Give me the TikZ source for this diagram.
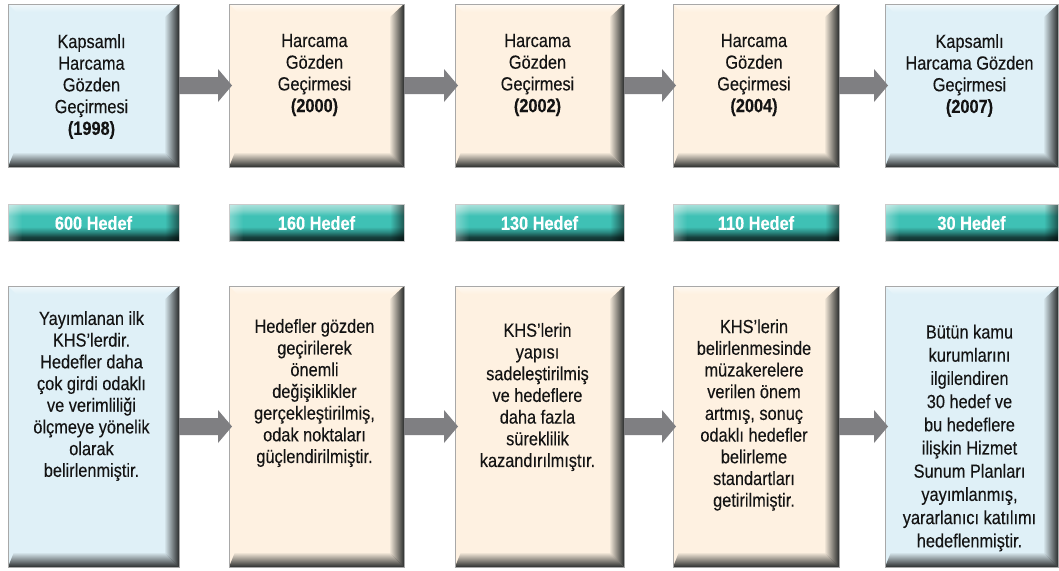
\documentclass[tikz,border=0pt]{standalone}
\usepackage{fontspec}
\setmainfont{Liberation Sans}[FakeStretch=0.86, FakeBold=0.25]
\usetikzlibrary{fadings}
\definecolor{boxblue}{HTML}{DFF0F7}
\definecolor{boxpeach}{HTML}{FEF1E1}
\definecolor{edgegray}{HTML}{A8A8A8}
\definecolor{shadowdark}{HTML}{2B2E2E}
\definecolor{arrowgray}{HTML}{7F7F82}
\definecolor{barlight}{HTML}{A6E0DA}
\definecolor{barsoft}{HTML}{82D4CB}
\definecolor{barmid}{HTML}{3FC1B5}
\definecolor{bardeep}{HTML}{2A8A82}
\definecolor{bardarker}{HTML}{163F3C}
\definecolor{bardark}{HTML}{0E2B29}
\definecolor{textblack}{HTML}{141414}
\pgfdeclareverticalshading{barshade}{100bp}{color(0bp)=(bardark); color(25bp)=(bardark); color(31bp)=(bardarker); color(38bp)=(bardeep); color(45bp)=(barmid); color(60bp)=(barmid); color(68bp)=(barsoft); color(75bp)=(barlight); color(100bp)=(barlight)}
\newcommand{\panelbevel}[1]{%
  \fill[shadowdark, path fading=west] (#1.north east) -- (#1.south east) -- ([shift={(-15pt,15pt)}]#1.south east) -- ([shift={(-15pt,-14pt)}]#1.north east) -- cycle;
  \fill[shadowdark, path fading=north] (#1.south west) -- (#1.south east) -- ([shift={(-15pt,15pt)}]#1.south east) -- ([shift={(6pt,15pt)}]#1.south west) -- cycle;
  \fill[white, opacity=0.6, path fading=south] (#1.north west) -- (#1.north east) -- ([shift={(-14pt,-8pt)}]#1.north east) -- ([shift={(8pt,-8pt)}]#1.north west) -- cycle;
  \draw[edgegray, line width=0.6pt] (#1.north west) rectangle (#1.south east);
}
\newcommand{\barends}[1]{%
  \fill[black, opacity=0.55, path fading=west] ([xshift=-14pt]#1.north east) rectangle (#1.south east);
  \fill[white, opacity=0.35, path fading=east] (#1.north west) rectangle ([xshift=14pt]#1.south west);
  \draw[edgegray!60, line width=0.6pt] (#1.north west) rectangle (#1.south east);
}
\newcommand{\flowarrow}[2]{%
  \fill[arrowgray] ([yshift=8.5pt]#1.east) -- ([shift={(-11pt,8.5pt)}]#2.west) -- ([shift={(-11pt,16.5pt)}]#2.west) -- ([xshift=3pt]#2.west) -- ([shift={(-11pt,-16.5pt)}]#2.west) -- ([shift={(-11pt,-8.5pt)}]#2.west) -- ([yshift=-8.5pt]#1.east) -- cycle;
}
\begin{document}
\begin{tikzpicture}[x=1pt,y=-1pt,
  panel/.style={inner sep=0pt, outer sep=0pt, minimum height=163pt},
  tallpanel/.style={inner sep=0pt, outer sep=0pt, minimum height=281pt},
  bluefill/.style={fill=boxblue},
  peachfill/.style={fill=boxpeach},
  txt/.style={font=\fontsize{19}{21.7}\selectfont, align=center, inner sep=0pt, text=textblack},
  txtwide/.style={font=\fontsize{19}{23.2}\selectfont, align=center, inner sep=0pt, text=textblack},
  bar/.style={inner sep=0pt, outer sep=0pt, minimum height=37pt, shading=barshade},
  bartext/.style={text=white, font=\fontsize{19}{20}\selectfont\bfseries, inner sep=0pt},
]
\useasboundingbox (0,0) rectangle (1059,570);
\fill[white] (0,0) rectangle (1059,570);

% top panels
\node[panel, bluefill, minimum width=171pt] (p1) at (93.5,85.5) {};
\node[panel, peachfill, minimum width=175pt] (p2) at (316.5,85.5) {};
\node[panel, peachfill, minimum width=169pt] (p3) at (539.5,85.5) {};
\node[panel, peachfill, minimum width=166pt] (p4) at (756,85.5) {};
\node[panel, bluefill, minimum width=173pt] (p5) at (971.5,85.5) {};
\panelbevel{p1}\panelbevel{p2}\panelbevel{p3}\panelbevel{p4}\panelbevel{p5}

\node[txt] (p1t) at (91.5,86.5) {Kapsamlı\\Harcama\\Gözden\\Geçirmesi\\\textbf{(1998)}};
\node[txt] (p2t) at (314.5,75) {Harcama\\Gözden\\Geçirmesi\\\textbf{(2000)}};
\node[txt] (p3t) at (537.5,75) {Harcama\\Gözden\\Geçirmesi\\\textbf{(2002)}};
\node[txt] (p4t) at (754,75) {Harcama\\Gözden\\Geçirmesi\\\textbf{(2004)}};
\node[txt] (p5t) at (969.5,75.5) {Kapsamlı\\Harcama Gözden\\Geçirmesi\\\textbf{(2007)}};

% bars
\node[bar, minimum width=171pt] (b1) at (93.5,223) {};
\node[bar, minimum width=175pt] (b2) at (316.5,223) {};
\node[bar, minimum width=169pt] (b3) at (539.5,223) {};
\node[bar, minimum width=166pt] (b4) at (756,223) {};
\node[bar, minimum width=173pt] (b5) at (971.5,223) {};
\barends{b1}\barends{b2}\barends{b3}\barends{b4}\barends{b5}
\node[bartext] (b1t) at (b1) {600 Hedef};
\node[bartext] (b2t) at (b2) {160 Hedef};
\node[bartext] (b3t) at (b3) {130 Hedef};
\node[bartext] (b4t) at (b4) {110 Hedef};
\node[bartext] (b5t) at (b5) {30 Hedef};

% bottom panels
\node[tallpanel, bluefill, minimum width=171pt] (q1) at (93.5,426.5) {};
\node[tallpanel, peachfill, minimum width=175pt] (q2) at (316.5,426.5) {};
\node[tallpanel, peachfill, minimum width=169pt] (q3) at (539.5,426.5) {};
\node[tallpanel, peachfill, minimum width=166pt] (q4) at (756,426.5) {};
\node[tallpanel, bluefill, minimum width=173pt] (q5) at (971.5,426.5) {};
\panelbevel{q1}\panelbevel{q2}\panelbevel{q3}\panelbevel{q4}\panelbevel{q5}

\node[txt] (q1t) at (91.5,396) {Yayımlanan ilk\\KHS’lerdir.\\Hedefler daha\\çok girdi odaklı\\ve verimliliği\\ölçmeye yönelik\\olarak\\belirlenmiştir.};
\node[txt] (q2t) at (314.5,393) {Hedefler gözden\\geçirilerek\\önemli\\değişiklikler\\gerçekleştirilmiş,\\odak noktaları\\güçlendirilmiştir.};
\node[txt] (q3t) at (537.5,397) {KHS’lerin\\yapısı\\sadeleştirilmiş\\ve hedeflere\\daha fazla\\süreklilik\\kazandırılmıştır.};
\node[txt] (q4t) at (754,415) {KHS’lerin\\belirlenmesinde\\müzakerelere\\verilen önem\\artmış, sonuç\\odaklı hedefler\\belirleme\\standartları\\getirilmiştir.};
\node[txtwide] (q5t) at (969.5,438) {Bütün kamu\\kurumlarını\\ilgilendiren\\30 hedef ve\\bu hedeflere\\ilişkin Hizmet\\Sunum Planları\\yayımlanmış,\\yararlanıcı katılımı\\hedeflenmiştir.};

% arrows
\flowarrow{p1}{p2}\flowarrow{p2}{p3}\flowarrow{p3}{p4}\flowarrow{p4}{p5}
\flowarrow{q1}{q2}\flowarrow{q2}{q3}\flowarrow{q3}{q4}\flowarrow{q4}{q5}
\end{tikzpicture}
\end{document}
